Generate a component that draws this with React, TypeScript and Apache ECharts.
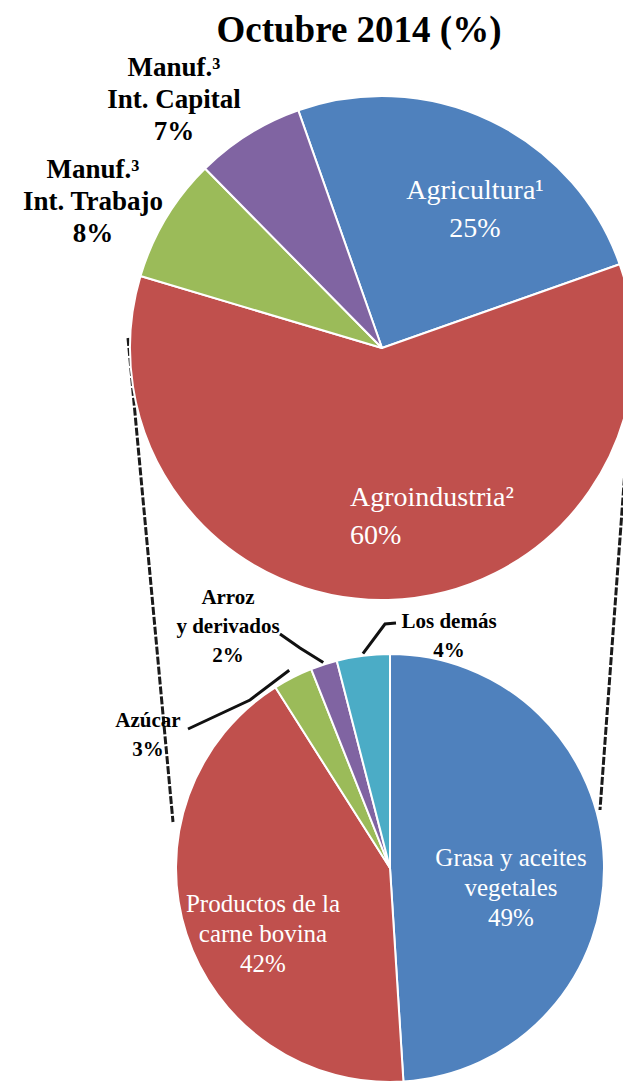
import React, { useEffect, useRef } from "react";
import * as echarts from "echarts";

const TITLE = "Octubre 2014 (%)";

// Main pie (exports by type)
const mainNames = ["Agricultura", "Agroindustria", "Manuf. Int. Trabajo", "Manuf. Int. Capital"];
const mainLabelText = [["Agricultura¹"], ["Agroindustria²"], ["Manuf.³", "Int. Trabajo"], ["Manuf.³", "Int. Capital"]];
const mainValues = [25, 60, 8, 7];
const mainColors = ["#4F81BD", "#C0504D", "#9BBB59", "#8064A2"];

// Secondary pie (breakdown of Agroindustria)
const subNames = ["Grasa y aceites vegetales", "Productos de la carne bovina", "Azúcar", "Arroz y derivados", "Los demás"];
const subLabelText = [["Grasa y aceites", "vegetales"], ["Productos de la", "carne bovina"], ["Azúcar"], ["Arroz", "y derivados"], ["Los demás"]];
const subValues = [49, 42, 3, 2, 4];
const subColors = ["#4F81BD", "#C0504D", "#9BBB59", "#8064A2", "#4BACC6"];

// layout
const TOP = { cx: 382, cy: 348, r: 252, startAngle: 109.4 };
const BOT = { cx: 390, cy: 868, r: 214, startAngle: 90 };
const SERIF = "'Liberation Serif', 'Times New Roman', serif";

function midAngles(values: number[], startAngle: number): number[] {
  const total = values.reduce((a, b) => a + b, 0);
  const out: number[] = [];
  let acc = 0;
  for (const v of values) {
    const mid = acc + v / 2;
    out.push(startAngle - (mid / total) * 360);
    acc += v;
  }
  return out;
}

function edgePoint(c: { cx: number; cy: number }, r: number, angDeg: number): number[] {
  const a = (angDeg * Math.PI) / 180;
  return [c.cx + r * Math.cos(a), c.cy - r * Math.sin(a)];
}

export default function App() {
  const ref = useRef<HTMLDivElement>(null);

  useEffect(() => {
    if (!ref.current) return;
    const chart = echarts.init(ref.current, undefined, { renderer: "svg" });

    const subMid = midAngles(subValues, BOT.startAngle);

    // label anchor positions
    const mainLabelPos = [
      { x: 475, y: 208, align: "center" },
      { x: 350, y: 515, align: "left" },
      { x: 93, y: 201, align: "center" },
      { x: 174, y: 99, align: "center" },
    ];
    const subLabelPos = [
      { x: 511, y: 887, align: "center" },
      { x: 263, y: 933, align: "center" },
      { x: 148, y: 734, align: "center" },
      { x: 228, y: 626, align: "center" },
      { x: 449, y: 635, align: "center" },
    ];
    const subLeader: Record<number, number[][]> = {
      2: [edgePoint(BOT, BOT.r + 8, subMid[2]), [250, 700], [188, 729]],
      3: [edgePoint(BOT, BOT.r + 2, subMid[3]), [300, 648], [280, 634]],
      4: [edgePoint(BOT, BOT.r + 2, subMid[4]), [385, 624], [396, 623]],
    };

    const innerStyle = (size: number, lh: number) => ({
      color: "#fff",
      fontFamily: SERIF,
      fontSize: size,
      lineHeight: lh,
      fontWeight: "normal",
    });
    const outerStyle = (size: number, lh: number) => ({
      color: "#000",
      fontFamily: SERIF,
      fontSize: size,
      lineHeight: lh,
      fontWeight: "bold",
    });

    const mainData = mainValues.map((v, i) => ({
      name: mainNames[i],
      value: v,
      itemStyle: { color: mainColors[i] },
      label: {
        position: i < 2 ? "inside" : "outside",
        formatter: mainLabelText[i].join("\n") + "\n" + v + "%",
        ...(i < 2 ? innerStyle(28, 38) : outerStyle(27, 32)),
      },
      labelLine: { show: false },
    }));

    const subData = subValues.map((v, i) => ({
      name: subNames[i],
      value: v,
      itemStyle: { color: subColors[i] },
      label: {
        position: i < 2 ? "inside" : "outside",
        formatter: subLabelText[i].join("\n") + "\n" + v + "%",
        ...(i < 2 ? innerStyle(25, 30) : outerStyle(21, 29)),
      },
      labelLine: { show: i >= 2, lineStyle: { color: "#111", width: 3 } },
    }));

    // connector lines between the pies
    const dy1 = 46;
    const dy2 = 58;
    const connectors = [
      {
        x1: TOP.cx - TOP.r - 2,
        y1: TOP.cy - 10,
        x2: BOT.cx - Math.sqrt(BOT.r * BOT.r - dy1 * dy1) - 8,
        y2: BOT.cy - dy1,
      },
      {
        x1: TOP.cx + TOP.r,
        y1: TOP.cy,
        x2: BOT.cx + Math.sqrt(BOT.r * BOT.r - dy2 * dy2) + 4,
        y2: BOT.cy - dy2,
      },
    ];

    chart.setOption({
      animation: false,
      backgroundColor: "#fff",
      title: {
        text: TITLE,
        left: 354,
        top: 6,
        textAlign: "center",
        textStyle: { fontFamily: SERIF, fontWeight: "bold", fontSize: 37, color: "#000" },
      },
      graphic: connectors.map((c) => ({
        type: "line",
        shape: c,
        style: { stroke: "#1a1a1a", lineWidth: 3, lineDash: [8, 2] },
        z: 0,
      })),
      series: [
        {
          type: "pie",
          center: [TOP.cx, TOP.cy],
          radius: [0, TOP.r],
          startAngle: TOP.startAngle,
          clockwise: true,
          avoidLabelOverlap: false,
          itemStyle: { borderColor: "#fff", borderWidth: 2 },
          data: mainData,
          labelLayout: (p: any) => {
            const pos = mainLabelPos[p.dataIndex];
            return { x: pos.x, y: pos.y, align: pos.align, verticalAlign: "middle" };
          },
          z: 2,
        },
        {
          type: "pie",
          center: [BOT.cx, BOT.cy],
          radius: [0, BOT.r],
          startAngle: BOT.startAngle,
          clockwise: true,
          avoidLabelOverlap: false,
          itemStyle: { borderColor: "#fff", borderWidth: 2 },
          data: subData,
          labelLayout: (p: any) => {
            const pos = subLabelPos[p.dataIndex];
            const res: any = { x: pos.x, y: pos.y, align: pos.align, verticalAlign: "middle" };
            if (subLeader[p.dataIndex]) res.labelLinePoints = subLeader[p.dataIndex];
            return res;
          },
          z: 2,
        },
      ],
    });

    return () => chart.dispose();
  }, []);

  return (
    <div
      ref={ref}
      style={{ position: "absolute", left: 0, top: 0, width: 623, height: 1082 }}
    />
  );
}
